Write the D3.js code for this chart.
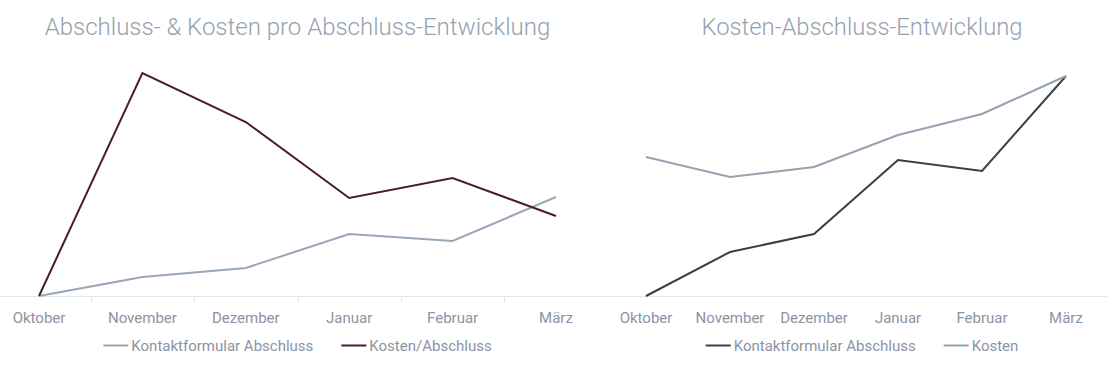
<!DOCTYPE html>
<html>
<head>
<meta charset="utf-8">
<script src="https://cdn.jsdelivr.net/npm/d3@7"></script>
<style>
  body { margin: 0; background: #fff; }
  svg { display: block; font-family: Roboto, "Noto Sans", sans-serif; }
</style>
</head>
<body>
<div id="charts"></div>
<script>
// months on the category axis
const months = ["Oktober", "November", "Dezember", "Januar", "Februar", "März"];

// left chart: Abschluss & Kosten pro Abschluss
const leftKontakt = [0, 19, 28, 62, 55, 99];
const leftKostenProAbschluss = [0, 223, 174, 98, 118, 80];

// right chart: Kosten vs Abschluss
const rightKontakt = [0, 44, 62, 136, 125, 220];
const rightKosten = [139, 119, 129, 161, 182, 220];

const yMax = 250;

let config = {
  svg: { width: 1119, height: 367 },
  baseline: 296
};

const svg = d3.select("#charts").append("svg")
  .attr("width", config.svg.width)
  .attr("height", config.svg.height);

function drawChart(opts) {
  let g = svg.append("g");

  let x = d3.scaleBand().domain(months).range(opts.range);
  let y = d3.scaleLinear().domain([0, yMax]).range([config.baseline, config.baseline - yMax]);

  // title
  g.append("text")
    .attr("x", opts.center)
    .attr("y", 35)
    .attr("text-anchor", "middle")
    .style("font-size", opts.titleSize + "px")
    .style("font-weight", 300)
    .style("fill", "#95a1b1")
    .text(opts.title);

  // baseline
  g.append("line")
    .attr("x1", opts.axisFrom).attr("x2", opts.axisTo)
    .attr("y1", config.baseline + 0.5).attr("y2", config.baseline + 0.5)
    .style("stroke", "#e2e5e9");

  // separators between months (left chart only)
  if (opts.separators) {
    g.selectAll(".sep")
      .data(months.slice(1))
      .enter().append("line")
      .attr("x1", d => Math.round(x(d)) + 0.5)
      .attr("x2", d => Math.round(x(d)) + 0.5)
      .attr("y1", config.baseline)
      .attr("y2", config.baseline + 6)
      .style("stroke", "#e2e5e9");
  }

  // month labels
  let axis = g.append("g")
    .attr("transform", "translate(0," + config.baseline + ")")
    .call(d3.axisBottom(x).tickSize(0).tickPadding(16));
  axis.select(".domain").remove();
  axis.selectAll("text")
    .style("font-family", "Roboto, sans-serif")
    .style("font-size", "15px")
    .style("fill", "#8b94a4");

  let line = d3.line()
    .x((d, i) => x(months[i]) + x.bandwidth() / 2)
    .y(d => y(d));

  opts.series.forEach(s => {
    g.append("path")
      .datum(s.values)
      .attr("d", line)
      .style("fill", "none")
      .style("stroke", s.color)
      .style("stroke-width", 2)
      .style("stroke-linejoin", "miter");
  });

  // legend, centred under the chart
  let legend = g.append("g");
  let offset = 0;
  opts.series.forEach((s, i) => {
    let item = legend.append("g").attr("transform", "translate(" + offset + ",0)");
    item.append("line")
      .attr("x1", 0).attr("x2", 25)
      .attr("y1", 345.5).attr("y2", 345.5)
      .style("stroke", s.color)
      .style("stroke-width", 2);
    let t = item.append("text")
      .attr("x", 28)
      .attr("y", 351)
      .style("font-size", "15px")
      .style("fill", "#8b94a4")
      .text(s.name);
    offset += 28 + t.node().getComputedTextLength() + 28;
  });
  let total = offset - 28;
  legend.attr("transform", "translate(" + (opts.center - total / 2) + ",0)");
}

drawChart({
  title: "Abschluss- & Kosten pro Abschluss-Entwicklung",
  titleSize: 24,
  range: [-12.7, 607.7],
  center: 297.5,
  axisFrom: 0,
  axisTo: 604,
  separators: true,
  series: [
    { name: "Kontaktformular Abschluss", values: leftKontakt, color: "#98a7b7" },
    { name: "Kosten/Abschluss", values: leftKostenProAbschluss, color: "#4b1d28" }
  ]
});

drawChart({
  title: "Kosten-Abschluss-Entwicklung",
  titleSize: 23.8,
  range: [604, 1108],
  center: 862,
  axisFrom: 604,
  axisTo: 1107,
  separators: false,
  series: [
    { name: "Kontaktformular Abschluss", values: rightKontakt, color: "#393e49" },
    { name: "Kosten", values: rightKosten, color: "#96a2b1" }
  ]
});
</script>
</body>
</html>
